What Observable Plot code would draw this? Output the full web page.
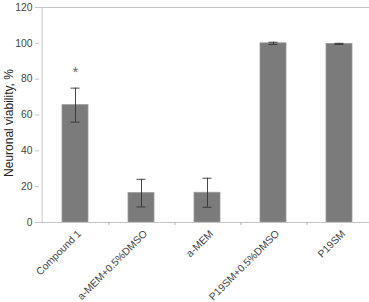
<!DOCTYPE html>
<html><head><meta charset="utf-8">
<script src="https://cdn.jsdelivr.net/npm/d3@7"></script>
<script src="https://cdn.jsdelivr.net/npm/@observablehq/plot@0.6"></script>
<style>body{margin:0;background:#fff;overflow:hidden}svg{display:block}</style>
</head><body><div id="chart"></div>
<script>
const categories = ["Compound 1", "a-MEM+0.5%DMSO", "a-MEM", "P19SM+0.5%DMSO", "P19SM"];
const viability = [65.5, 16.4, 16.6, 100, 99.7];
const errors = [9.5, 7.7, 8.1, 0.6, 0.3];
const yTicks = [0, 20, 40, 60, 80, 100, 120];
const significance = [{cat: "Compound 1", y: 83.5, label: "*"}];

const data = categories.map((c, i) => ({cat: c, v: viability[i], e: errors[i]}));
const font = "Liberation Sans, Arial, sans-serif";

const chart = Plot.plot({
  width: 369, height: 302,
  marginLeft: 39, marginRight: 0, marginTop: 7, marginBottom: 80,
  style: {fontFamily: font, background: "#fff"},
  x: {domain: categories, range: [39.5, 373.5], paddingInner: 0.61, paddingOuter: 0.305, align: 0.5, axis: null},
  y: {domain: [0, 120]},
  marks: [
    Plot.barY(data, {x: "cat", y: "v", fill: "#7b7b7b", stroke: "#9a9a9a", strokeWidth: 0.8}),
    Plot.ruleY([0, 120], {stroke: "#c4c4c4", strokeWidth: 1}),
    Plot.ruleX([0], {x: () => categories[0], dx: -33.4, y1: 0, y2: 120, stroke: "#c4c4c4"}),
    Plot.ruleX(categories, {x: d => d, dx: 33.4, y1: 0, y2: 0, insetBottom: -3, stroke: "#b0b0b0"}),
    Plot.ruleX(data, {x: "cat", y1: d => d.v - d.e, y2: d => d.v + d.e, stroke: "#333", strokeWidth: 0.9}),
    Plot.tickY(data, {x: "cat", y: d => d.v + d.e, stroke: "#333", strokeWidth: 0.9, inset: 8.5}),
    Plot.tickY(data, {x: "cat", y: d => d.v - d.e, stroke: "#333", strokeWidth: 0.9, inset: 8.5}),
    Plot.text(significance, {x: "cat", y: "y", text: "label", fontSize: 14, fill: "#666"}),
    Plot.axisY({ticks: yTicks, tickSize: 4, tickPadding: 3, fontSize: 10.3, label: null, stroke: "#c4c4c4", color: "#444"}),
    Plot.text(categories, {x: d => d, frameAnchor: "bottom", rotate: -45, textAnchor: "end", lineAnchor: "middle", dx: 4, dy: 9.5, fontSize: 10.3, fill: "#444"}),
    Plot.text(["Neuronal viability, %"], {frameAnchor: "left", rotate: -90, textAnchor: "middle", dx: -30, dy: 8, fontSize: 12, fill: "#222"})
  ]
});
document.getElementById("chart").append(chart);
</script></body></html>
